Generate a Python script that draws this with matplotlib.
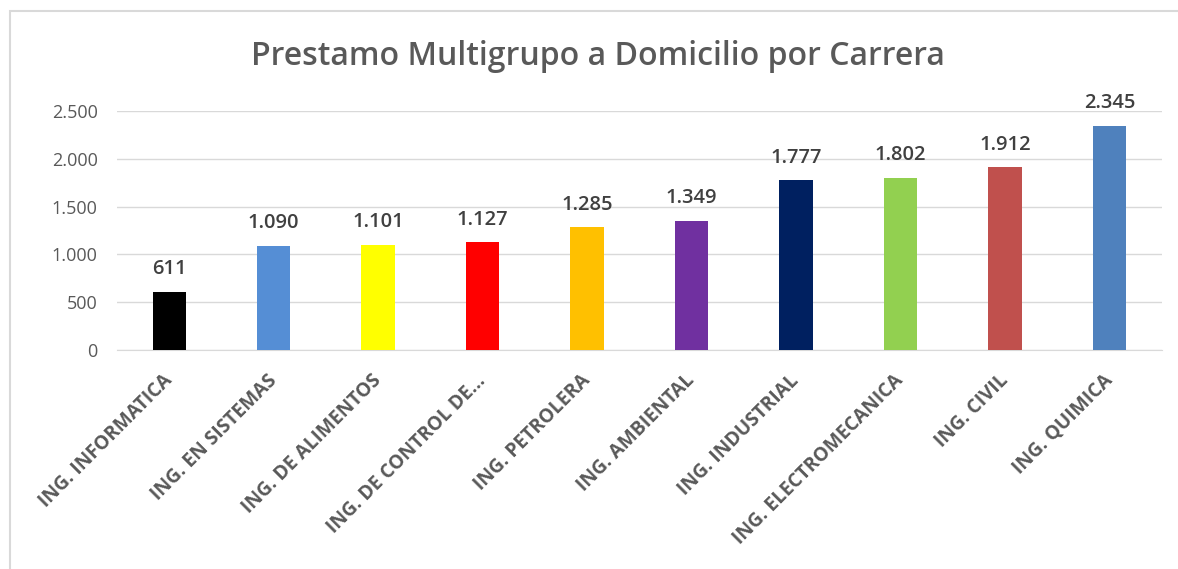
'''
Prestamo multigrupo a domicilio por carrera
'''

from matplotlib import pyplot as plt
from matplotlib.patches import Rectangle
from matplotlib.ticker import FuncFormatter

carreras = ['ING. INFORMATICA', 'ING. EN SISTEMAS', 'ING. DE ALIMENTOS',
            'ING. DE CONTROL DE...', 'ING. PETROLERA', 'ING. AMBIENTAL',
            'ING. INDUSTRIAL', 'ING. ELECTROMECANICA', 'ING. CIVIL', 'ING. QUIMICA']
prestamos = [611, 1090, 1101, 1127, 1285, 1349, 1777, 1802, 1912, 2345]
colores = ['#000000', '#558ed5', '#ffff00', '#ff0000', '#ffc000',
           '#7030a0', '#002060', '#92d050', '#c0504d', '#4f81bd']
y_ticks = [0, 500, 1000, 1500, 2000, 2500]


def miles(v):
    return f'{int(v):,}'.replace(',', '.')


def plot_prestamos():
    plt.rcParams['font.family'] = ['Open Sans', 'DejaVu Sans']
    gris = '#595959'

    fig = plt.figure(figsize=(11.78, 5.69), dpi=100)
    ax = fig.add_axes([0.0993, 0.385, 0.887, 0.42])

    x = range(len(carreras))
    ax.bar(x, prestamos, width=0.32, color=colores, zorder=3)

    for i, v in zip(x, prestamos):
        ax.annotate(miles(v), (i, v), xytext=(0, 9), textcoords='offset points',
                    ha='center', va='bottom', fontsize=14.5,
                    fontweight='semibold', color='#404040')

    ax.set_xlim(-0.5, len(carreras) - 0.5)
    ax.set_ylim(0, 2500)
    ax.set_yticks(y_ticks)
    ax.yaxis.set_major_formatter(FuncFormatter(lambda v, p: miles(v)))
    ax.set_xticks(list(x))
    ax.set_xticklabels(carreras, rotation=45, ha='right', va='center',
                       rotation_mode='anchor', fontsize=13.8,
                       fontweight='bold', color=gris)
    ax.tick_params(axis='y', length=0, labelsize=13, labelcolor=gris, pad=14)
    ax.tick_params(axis='x', length=0, pad=20)
    ax.grid(axis='y', color='#d9d9d9', linewidth=1, zorder=0)
    for s in ['top', 'right', 'left']:
        ax.spines[s].set_visible(False)
    ax.spines['bottom'].set_color('#d9d9d9')

    fig.text(0.508, 0.9, 'Prestamo Multigrupo a Domicilio por Carrera',
             ha='center', va='center', fontsize=23, fontweight='semibold',
             color=gris)

    fig.patches.append(Rectangle((0.0085, -0.05), 1.1, 1.031,
                                 transform=fig.transFigure, fill=False,
                                 edgecolor='#d9d9d9', linewidth=1.5))

    fig.savefig('out.png', dpi=100)


if __name__ == '__main__':
    plot_prestamos()
